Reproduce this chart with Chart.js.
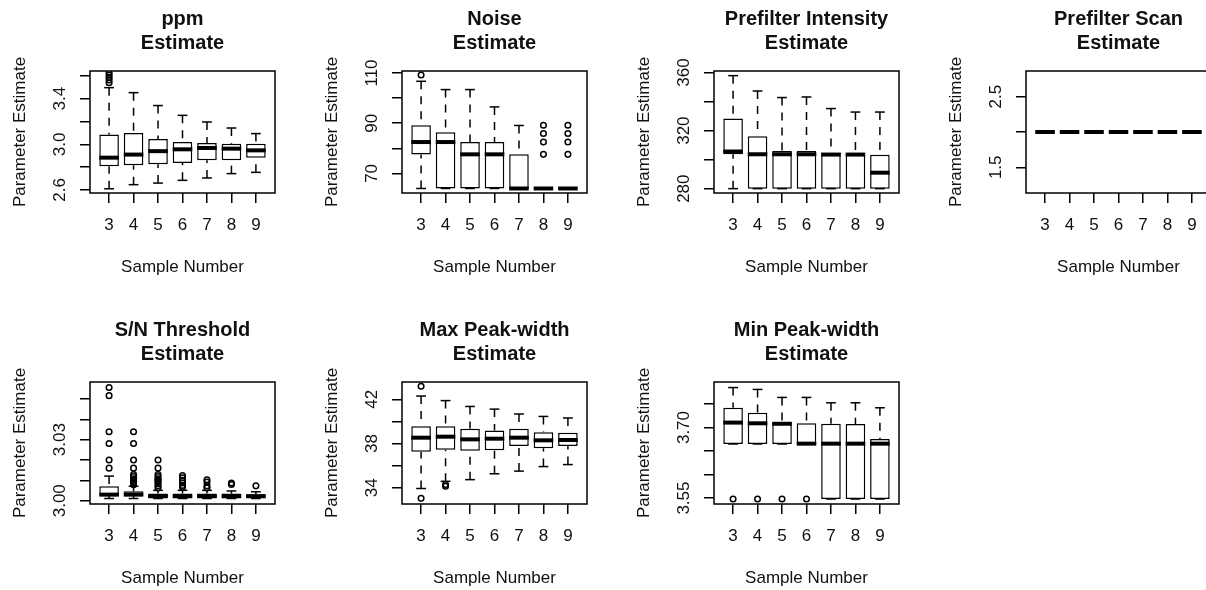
<!DOCTYPE html>
<html>
<head>
<meta charset="utf-8">
<script src="https://cdn.jsdelivr.net/npm/chart.js@4.4.1/dist/chart.umd.min.js"></script>
<style>
  html, body { margin: 0; padding: 0; background: #fff; overflow: hidden; width: 1206px; height: 590px; position: relative; }
  canvas { position: absolute; }
</style>
</head>
<body>
<script>
var samples = [3, 4, 5, 6, 7, 8, 9];

// ppm
var ppmLow  = [2.61, 2.646, 2.66, 2.684, 2.705, 2.743, 2.754];
var ppmQ1   = [2.807, 2.816, 2.825, 2.836, 2.86, 2.86, 2.883];
var ppmMed  = [2.883, 2.91, 2.94, 2.956, 2.968, 2.962, 2.947];
var ppmQ3   = [3.085, 3.099, 3.046, 3.02, 3.011, 3.006, 3.006];
var ppmHigh = [3.497, 3.453, 3.34, 3.254, 3.196, 3.143, 3.094];
var ppmOut  = [[3, 3.54], [3, 3.565], [3, 3.585], [3, 3.605], [3, 3.625]];
var ppmTicks  = [2.6, 2.8, 3.0, 3.2, 3.4, 3.6];
var ppmLabels = ['2.6', '3.0', '3.4'];
var ppmRange  = [2.573, 3.643];

// Noise
var noiseLow  = [64, 64, 64, 64, 64, 64, 64];
var noiseQ1   = [77.5, 64, 64, 64, 64, 64, 64];
var noiseMed  = [82.5, 82.5, 77.6, 77.6, 64, 64, 64];
var noiseQ3   = [89.2, 86.4, 82.5, 82.5, 77.6, 64, 64];
var noiseHigh = [106.7, 103.4, 103.4, 96.5, 89.1, 64, 64];
var noiseOut  = [[3, 109.2], [8, 77.6], [8, 82.5], [8, 85.9], [8, 89.2], [9, 77.6], [9, 82.5], [9, 85.9], [9, 89.2]];
var noiseTicks  = [70, 80, 90, 100, 110];
var noiseLabels = ['70', '90', '110'];
var noiseRange  = [62.2, 110.8];

// Prefilter Intensity
var intLow  = [280, 280, 280, 280, 280, 280, 280];
var intQ1   = [303.7, 280, 280, 280, 280, 280, 280];
var intMed  = [305.6, 303.7, 303.7, 303.7, 303.5, 303.5, 291.0];
var intQ3   = [328.3, 316.1, 305.9, 305.9, 304.5, 304.5, 303.4];
var intHigh = [357.9, 347.3, 342.8, 343.2, 335.2, 332.8, 332.8];
var intOut  = [];
var intTicks  = [280, 300, 320, 340, 360];
var intLabels = ['280', '320', '360'];
var intRange  = [277.0, 361.1];

// Prefilter Scan
var scanLow  = [2, 2, 2, 2, 2, 2, 2];
var scanQ1   = [2, 2, 2, 2, 2, 2, 2];
var scanMed  = [2, 2, 2, 2, 2, 2, 2];
var scanQ3   = [2, 2, 2, 2, 2, 2, 2];
var scanHigh = [2, 2, 2, 2, 2, 2, 2];
var scanOut  = [];
var scanTicks  = [1.5, 2.0, 2.5];
var scanLabels = ['1.5', '2.5'];
var scanRange  = [1.136, 2.864];

// S/N Threshold
var snLow  = [3.0011, 3.0011, 3.0011, 3.0011, 3.0011, 3.0011, 3.0011];
var snQ1   = [3.0027, 3.0024, 3.0015, 3.0015, 3.0015, 3.0015, 3.0015];
var snMed  = [3.003, 3.003, 3.0022, 3.0022, 3.0022, 3.0022, 3.0022];
var snQ3   = [3.0071, 3.0046, 3.0035, 3.0035, 3.0035, 3.0035, 3.0032];
var snHigh = [3.0121, 3.0071, 3.0051, 3.0051, 3.0051, 3.0048, 3.0044];
var snOut  = [
  [3, 3.0556], [3, 3.0516], [3, 3.0339], [3, 3.0281], [3, 3.0200], [3, 3.0160],
  [4, 3.0339], [4, 3.0281], [4, 3.0200], [4, 3.0160], [4, 3.0129], [4, 3.0119], [4, 3.0108], [4, 3.0100], [4, 3.0095], [4, 3.0087], [4, 3.0079],
  [5, 3.0200], [5, 3.0160], [5, 3.0129], [5, 3.0119], [5, 3.0108], [5, 3.0100], [5, 3.0095], [5, 3.0084], [5, 3.0073], [5, 3.0063],
  [6, 3.0124], [6, 3.0113], [6, 3.0100], [6, 3.0087], [6, 3.0075], [6, 3.0066],
  [7, 3.0103], [7, 3.0092], [7, 3.0073], [7, 3.0063],
  [8, 3.0087], [8, 3.0080],
  [9, 3.0073]
];
var snTicks  = [3.00, 3.01, 3.02, 3.03, 3.04, 3.05];
var snLabels = ['3.00', '3.03'];
var snRange  = [2.9984, 3.0583];

// Max Peak-width
var maxLow  = [33.94, 34.59, 34.74, 35.27, 35.51, 35.92, 36.1];
var maxQ1   = [37.25, 37.43, 37.34, 37.4, 37.79, 37.58, 37.79];
var maxMed  = [38.53, 38.62, 38.38, 38.44, 38.53, 38.29, 38.32];
var maxQ3   = [39.56, 39.56, 39.33, 39.18, 39.33, 39.03, 38.98];
var maxHigh = [42.29, 41.88, 41.35, 41.11, 40.67, 40.45, 40.31];
var maxOut  = [[3, 43.18], [3, 33.05], [4, 34.3], [4, 34.15]];
var maxTicks  = [34, 36, 38, 40, 42];
var maxLabels = ['34', '38', '42'];
var maxRange  = [32.54, 43.56];

// Min Peak-width
var minLow  = [3.665, 3.665, 3.665, 3.665, 3.548, 3.548, 3.548];
var minQ1   = [3.665, 3.665, 3.665, 3.665, 3.548, 3.548, 3.548];
var minMed  = [3.7105, 3.709, 3.708, 3.6657, 3.6657, 3.6657, 3.6657];
var minQ3   = [3.742, 3.7316, 3.7105, 3.709, 3.708, 3.7075, 3.6756];
var minHigh = [3.785, 3.781, 3.764, 3.764, 3.7526, 3.7526, 3.742];
var minOut  = [[3, 3.548], [4, 3.548], [5, 3.548], [6, 3.548]];
var minTicks  = [3.55, 3.60, 3.65, 3.70, 3.75];
var minLabels = ['3.55', '3.70'];
var minRange  = [3.5374, 3.7968];

var xTitle = 'Sample Number';
var yTitle = 'Parameter Estimate';

var panels = [
  { title: ['ppm', 'Estimate'], low: ppmLow, q1: ppmQ1, med: ppmMed, q3: ppmQ3, high: ppmHigh, out: ppmOut, ticks: ppmTicks, labels: ppmLabels, range: ppmRange },
  { title: ['Noise', 'Estimate'], low: noiseLow, q1: noiseQ1, med: noiseMed, q3: noiseQ3, high: noiseHigh, out: noiseOut, ticks: noiseTicks, labels: noiseLabels, range: noiseRange },
  { title: ['Prefilter Intensity', 'Estimate'], low: intLow, q1: intQ1, med: intMed, q3: intQ3, high: intHigh, out: intOut, ticks: intTicks, labels: intLabels, range: intRange },
  { title: ['Prefilter Scan', 'Estimate'], low: scanLow, q1: scanQ1, med: scanMed, q3: scanQ3, high: scanHigh, out: scanOut, ticks: scanTicks, labels: scanLabels, range: scanRange },
  { title: ['S/N Threshold', 'Estimate'], low: snLow, q1: snQ1, med: snMed, q3: snQ3, high: snHigh, out: snOut, ticks: snTicks, labels: snLabels, range: snRange },
  { title: ['Max Peak-width', 'Estimate'], low: maxLow, q1: maxQ1, med: maxMed, q3: maxQ3, high: maxHigh, out: maxOut, ticks: maxTicks, labels: maxLabels, range: maxRange },
  { title: ['Min Peak-width', 'Estimate'], low: minLow, q1: minQ1, med: minMed, q3: minQ3, high: minHigh, out: minOut, ticks: minTicks, labels: minLabels, range: minRange }
];

var FONT = '"Liberation Sans", Arial, Helvetica, sans-serif';
Chart.defaults.font.family = FONT;

function seg(ctx, x1, y1, x2, y2) {
  ctx.beginPath();
  ctx.moveTo(x1, y1);
  ctx.lineTo(x2, y2);
  ctx.stroke();
}

// whiskers, staples, medians, frame and the R-style texts
function rPlugin(p) {
  return {
    id: 'rbox',
    afterDatasetsDraw(chart) {
      var ctx = chart.ctx, xs = chart.scales.x, ys = chart.scales.y, a = chart.chartArea;
      var half = xs.getPixelForValue(1.4) - xs.getPixelForValue(1);
      var stap = xs.getPixelForValue(1.2) - xs.getPixelForValue(1);
      ctx.save();
      ctx.strokeStyle = '#000';
      ctx.lineCap = 'butt';
      samples.forEach(function (s, i) {
        var x = xs.getPixelForValue(s);
        var yHi = ys.getPixelForValue(p.high[i]);
        var yLo = ys.getPixelForValue(p.low[i]);
        var yQ3 = ys.getPixelForValue(p.q3[i]);
        var yQ1 = ys.getPixelForValue(p.q1[i]);
        var yMed = ys.getPixelForValue(p.med[i]);
        ctx.lineWidth = 1.5;
        ctx.setLineDash([8, 7]);
        if (p.high[i] > p.q3[i]) seg(ctx, x, yHi, x, yQ3);
        if (p.low[i] < p.q1[i]) seg(ctx, x, yLo, x, yQ1);
        ctx.setLineDash([]);
        seg(ctx, x - stap, yHi, x + stap, yHi);
        seg(ctx, x - stap, yLo, x + stap, yLo);
        ctx.lineWidth = 4;
        seg(ctx, x - half, yMed, x + half, yMed);
      });
      ctx.lineWidth = 1.5;
      ctx.strokeRect(a.left, a.top, a.right - a.left, a.bottom - a.top);
      ctx.restore();
    },
    afterDraw(chart) {
      var ctx = chart.ctx, xs = chart.scales.x, ys = chart.scales.y, a = chart.chartArea;
      var cx = (a.left + a.right) / 2, cy = (a.top + a.bottom) / 2;
      ctx.save();
      ctx.fillStyle = '#111';
      ctx.textAlign = 'center';
      ctx.textBaseline = 'middle';
      // title
      ctx.font = 'bold 20px ' + FONT;
      ctx.fillText(p.title[0], cx, a.top - 52);
      ctx.fillText(p.title[1], cx, a.top - 28);
      // x tick labels + title
      ctx.font = '17px ' + FONT;
      samples.forEach(function (s) {
        ctx.fillText(String(s), xs.getPixelForValue(s), a.bottom + 32);
      });
      ctx.fillText(xTitle, cx, a.bottom + 74);
      // y tick labels, parallel to the axis
      p.labels.forEach(function (t) {
        ctx.save();
        ctx.translate(a.left - 30, ys.getPixelForValue(Number(t)));
        ctx.rotate(-Math.PI / 2);
        ctx.fillText(t, 0, 0);
        ctx.restore();
      });
      ctx.save();
      ctx.translate(a.left - 70, cy);
      ctx.rotate(-Math.PI / 2);
      ctx.fillText(yTitle, 0, 0);
      ctx.restore();
      ctx.restore();
    }
  };
}

function drawPanel(p, k) {
  var cv = document.createElement('canvas');
  cv.width = 312;
  cv.height = 311;
  cv.style.left = (k % 4) * 312 + 'px';
  cv.style.top = Math.floor(k / 4) * 311 + 'px';
  document.body.appendChild(cv);

  var boxes = samples.map(function (s, i) { return { x: s, y: [p.q1[i], p.q3[i]] }; });
  var outs = p.out.map(function (o) { return { x: o[0], y: o[1] }; });

  new Chart(cv, {
    type: 'bar',
    data: {
      datasets: [{
        type: 'bar',
        data: boxes,
        backgroundColor: '#fff',
        borderColor: '#000',
        borderWidth: 1.5,
        borderSkipped: false,
        categoryPercentage: 1,
        barPercentage: 0.8
      }, {
        type: 'scatter',
        data: outs,
        pointStyle: 'circle',
        pointRadius: 2.8,
        pointBorderWidth: 1.5,
        pointBorderColor: '#000',
        pointBackgroundColor: 'rgba(0,0,0,0)'
      }]
    },
    options: {
      responsive: false,
      animation: false,
      events: [],
      layout: { padding: { top: 71, right: 37, left: 0, bottom: 0 } },
      plugins: { legend: { display: false }, tooltip: { enabled: false } },
      scales: {
        x: {
          type: 'linear',
          min: 2.22,
          max: 9.78,
          offset: false,
          afterBuildTicks: function (s) { s.ticks = samples.map(function (v) { return { value: v }; }); },
          afterFit: function (s) { s.height = 118; },
          ticks: { display: false },
          grid: { offset: false, drawOnChartArea: false, drawTicks: true, tickLength: 10, color: '#000', lineWidth: 1.5 },
          border: { display: false }
        },
        y: {
          type: 'linear',
          min: p.range[0],
          max: p.range[1],
          afterBuildTicks: function (s) { s.ticks = p.ticks.map(function (v) { return { value: v }; }); },
          afterFit: function (s) { s.width = 90; },
          ticks: { display: false },
          grid: { drawOnChartArea: false, drawTicks: true, tickLength: 10, color: '#000', lineWidth: 1.5 },
          border: { display: false }
        }
      }
    },
    plugins: [rPlugin(p)]
  });
}

panels.forEach(drawPanel);
</script>
</body>
</html>
